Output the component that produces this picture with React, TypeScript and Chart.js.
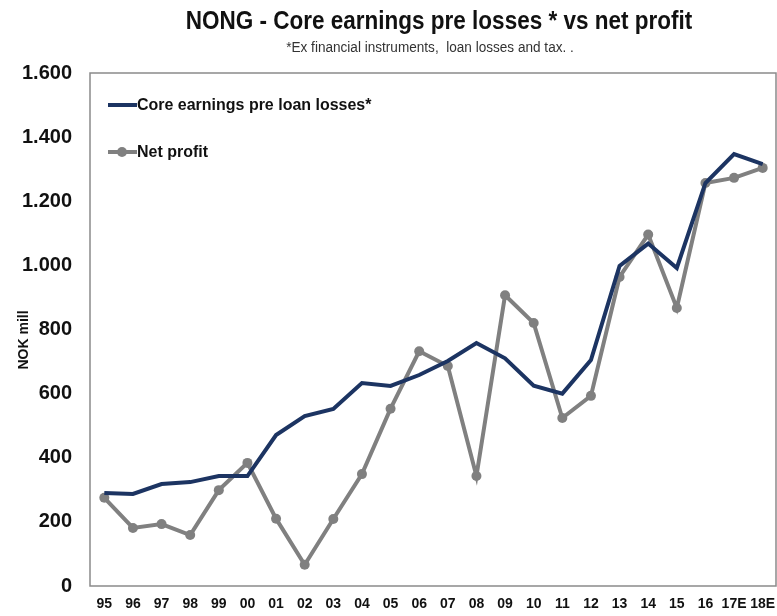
import React, { useEffect, useRef } from "react";
import { Chart, registerables } from "chart.js";

Chart.register(...registerables);

const years = ["95","96","97","98","99","00","01","02","03","04","05","06","07","08","09","10","11","12","13","14","15","16","17E","18E"];
const coreEarnings = [290,287,318,324,343,343,471,530,552,633,624,658,702,758,710,625,600,705,998,1068,992,1257,1347,1316];
const netProfit = [275,181,193,159,299,384,210,66,209,349,553,732,686,343,907,820,524,593,964,1096,867,1257,1273,1304];
const yTicksMax = 1600;
const yStep = 200;
const yAxisTitle = "NOK mill";

const FONT = "'Liberation Sans', Arial, sans-serif";
const NAVY = "#1c3462";
const GREY = "#808080";

function fmt(v: number) {
  return String(v).replace(/\B(?=(\d{3})+(?!\d))/g, ".");
}

function squeezedText(ctx: any, text: string, x: number, y: number, sx: number, align: string, rot = 0) {
  ctx.save();
  ctx.translate(x, y);
  if (rot) ctx.rotate(rot);
  ctx.scale(sx, 1);
  ctx.textAlign = align;
  ctx.fillText(text, 0, 0);
  ctx.restore();
}

const decor = {
  id: "decor",
  afterDraw(chart: any) {
    const { ctx, chartArea } = chart;
    ctx.save();
    // frame
    ctx.strokeStyle = "#8a8a8a";
    ctx.lineWidth = 1.5;
    ctx.strokeRect(chartArea.left, chartArea.top, chartArea.right - chartArea.left - 1, chartArea.bottom - chartArea.top);
    // titles
    ctx.fillStyle = "#111";
    ctx.textBaseline = "middle";
    ctx.font = `bold 25px ${FONT}`;
    squeezedText(ctx, "NONG - Core earnings pre losses * vs net profit", 439, 22, 0.9, "center");
    ctx.font = `14px ${FONT}`;
    ctx.fillStyle = "#333";
    squeezedText(ctx, "*Ex financial instruments,  loan losses and tax. .", 430, 48, 0.97, "center");
    // y axis title
    ctx.fillStyle = "#111";
    ctx.font = `bold 14px ${FONT}`;
    squeezedText(ctx, yAxisTitle, 24, 340, 1, "center", -Math.PI / 2);
    // legend
    const items = chart.data.datasets;
    const ys = [105, 152];
    items.forEach((ds: any, i: number) => {
      const y = ys[i];
      ctx.strokeStyle = ds.borderColor;
      ctx.lineWidth = 4;
      ctx.beginPath();
      ctx.moveTo(108, y);
      ctx.lineTo(137, y);
      ctx.stroke();
      if (ds.pointRadius > 0) {
        ctx.fillStyle = ds.pointBackgroundColor;
        ctx.beginPath();
        ctx.arc(122, y, 5, 0, Math.PI * 2);
        ctx.fill();
      }
      ctx.fillStyle = "#111";
      ctx.font = `bold 17px ${FONT}`;
      squeezedText(ctx, ds.label, 137, y, 0.94, "left");
    });
    ctx.restore();
  },
};

export default function App() {
  const ref = useRef<HTMLCanvasElement>(null);
  useEffect(() => {
    document.body.style.margin = "0";
    const chart = new Chart(ref.current!, {
      type: "line",
      data: {
        labels: years,
        datasets: [
          {
            label: "Core earnings pre loan losses*",
            data: coreEarnings,
            borderColor: NAVY,
            backgroundColor: NAVY,
            borderWidth: 4,
            pointRadius: 0,
            tension: 0,
          },
          {
            label: "Net profit",
            data: netProfit,
            borderColor: GREY,
            backgroundColor: GREY,
            pointBackgroundColor: GREY,
            pointBorderWidth: 0,
            borderWidth: 4,
            pointRadius: 5,
            tension: 0,
          },
        ],
      },
      options: {
        responsive: false,
        animation: false,
        layout: { autoPadding: false, padding: { top: 73, right: 0, left: 0, bottom: 0 } },
        plugins: {
          legend: { display: false },
          title: { display: false },
          tooltip: { enabled: false },
        },
        scales: {
          x: {
            offset: true,
            grid: { display: false, drawTicks: false },
            border: { display: false },
            ticks: {
              color: "#111",
              font: { family: FONT, size: 14, weight: "bold" },
              padding: 10,
              maxRotation: 0,
              autoSkip: false,
            },
            afterFit(scale: any) {
              scale.height = 30;
              scale.paddingRight = 0;
              scale.paddingLeft = 0;
            },
          },
          y: {
            min: 0,
            max: yTicksMax,
            grid: { display: false, drawTicks: false },
            border: { display: false },
            ticks: {
              stepSize: yStep,
              color: "#111",
              font: { family: FONT, size: 20, weight: "bold" },
              padding: 18,
              callback: (v: any) => fmt(Number(v)),
            },
            afterFit(scale: any) {
              scale.width = 90;
              scale.paddingTop = 0;
              scale.paddingBottom = 0;
            },
          },
        },
      },
      plugins: [decor],
    });
    return () => chart.destroy();
  }, []);
  return <canvas ref={ref} width={777} height={616} style={{ display: "block" }} />;
}
